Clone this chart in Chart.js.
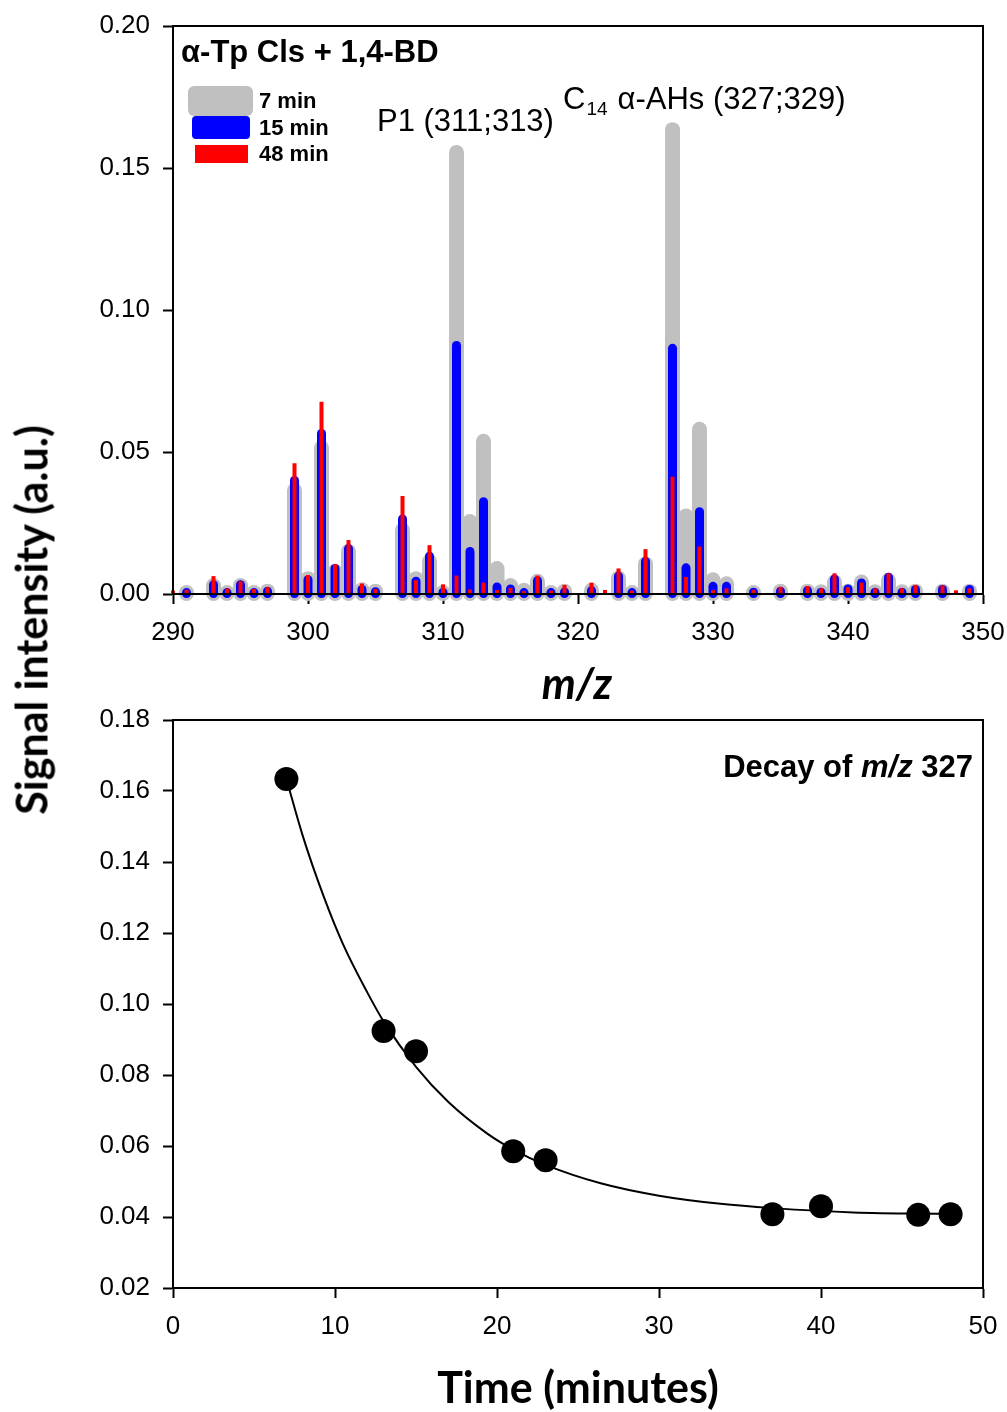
<!DOCTYPE html>
<html lang="en">
<head>
<meta charset="UTF-8">
<title>α-Tp Cls + 1,4-BD</title>
<script src="https://cdn.jsdelivr.net/npm/chart.js"></script>
<style>
  body { margin: 0; background: #fff; }
  #page { position: relative; width: 1007px; height: 1412px; overflow: hidden; }
  canvas { position: absolute; left: 0; }
  #spec { top: 0; }
  #decay { top: 700px; }
  .title { position: absolute; font-family: Lato, "Noto Sans", sans-serif; font-weight: 700; font-size: 43px; line-height: 1; white-space: nowrap; color: #000; }
  #ytitle { left: 31px; top: 620px; transform: translate(-50%, -50%) rotate(-90deg); }
  #mztitle { left: 577px; top: 682px; transform: translate(-50%, -50%); font-style: italic; }
  #ttitle { left: 578px; top: 1386px; transform: translate(-50%, -50%); }
</style>
</head>
<body>
<div id="page">
  <canvas id="spec" width="1007" height="700"></canvas>
  <canvas id="decay" width="1007" height="712"></canvas>
  <div class="title" id="ytitle">Signal intensity (a.u.)</div>
  <div class="title" id="mztitle">m/z</div>
  <div class="title" id="ttitle">Time (minutes)</div>
</div>
<script>
// mass spectra after 7, 15 and 48 min (null = no peak)
const mz = [290, 291, 293, 294, 295, 296, 297, 299, 300, 301, 302, 303, 304, 305,
  307, 308, 309, 310, 311, 312, 313, 314, 315, 316, 317, 318, 319, 321, 322, 323,
  324, 325, 327, 328, 329, 330, 331, 333, 335, 337, 338, 339, 340, 341, 342, 343,
  344, 345, 347, 348, 349]
const min7 = [null, 0.0005, 0.003, 0.0005, 0.003, 0.0005, 0.001, 0.0365, 0.0054, 0.0515, 0.008, 0.015, 0.0015, 0.001,
  0.0225, 0.0054, 0.0115, 0.0005, 0.1555, 0.0255, 0.0538, 0.009, 0.003, 0.0013, 0.0045, 0.0005, 0.001, 0.0013, null, 0.0056,
  0.0005, 0.0106, 0.1635, 0.0275, 0.058, 0.005, 0.0036, 0.0005, 0.001, 0.001, 0.0008, 0.0042, 0.001, 0.0042, 0.0008, 0.0048,
  0.0008, 0.001, 0.001, null, 0.001]
const min15 = [null, 0.0005, 0.0033, 0.0005, 0.0033, 0.0005, 0.001, 0.040, 0.005, 0.0565, 0.009, 0.016, 0.0016, 0.0008,
  0.0264, 0.0045, 0.0133, 0.0006, 0.0875, 0.015, 0.0325, 0.0025, 0.0018, 0.0005, 0.0047, 0.0005, 0.0007, 0.0012, null, 0.0063,
  0.0005, 0.0115, 0.0865, 0.0092, 0.029, 0.0027, 0.0027, 0.0006, 0.001, 0.0012, 0.0006, 0.0053, 0.0018, 0.0039, 0.0006, 0.0059,
  0.0006, 0.0016, 0.0016, null, 0.0016]
const min48 = [0.0012, 0.0015, 0.0063, 0.0019, 0.0045, 0.0018, 0.0024, 0.046, 0.0067, 0.0677, 0.0105, 0.019, 0.0037, 0.0018,
  0.0345, 0.0049, 0.0172, 0.0034, 0.0065, 0.0016, 0.004, 0.0014, 0.0022, 0.001, 0.0065, 0.0012, 0.0032, 0.004, 0.0014, 0.009,
  0.0012, 0.0158, 0.0413, 0.006, 0.0167, 0.0014, 0.002, 0.0015, 0.0025, 0.0028, 0.002, 0.0073, 0.0024, 0.004, 0.002, 0.0073,
  0.002, 0.0032, 0.003, 0.0013, 0.002]

// decay of m/z 327
const time = [7, 13, 15, 21, 23, 37, 40, 46, 48]
const signal = [0.1634, 0.0924, 0.0867, 0.0585, 0.056, 0.0408, 0.043, 0.0406, 0.0408]
const fitTime = [7, 8, 9.3, 10.5, 12, 13, 15, 17, 19.4, 21, 23, 26.4, 30, 33.8, 37, 42, 48]
const fitSignal = [0.1634, 0.1475, 0.1303, 0.1168, 0.1032, 0.0951, 0.0823, 0.0724, 0.0635, 0.059, 0.0547, 0.0495, 0.046, 0.0437, 0.0425, 0.0413, 0.0409]

const FONT = '"Liberation Sans", Arial, sans-serif'
Chart.defaults.font.family = FONT
Chart.defaults.color = '#000'

const pairs = (xs, ys) => xs.map((x, i) => ({ x, y: ys[i] }))

// axis boxes fixed so both plots share the same frame
const fixWidth = (w) => (s) => { s.width = w; s.paddingTop = 0; s.paddingBottom = 0 }
const fixHeight = (h) => (s) => { s.height = h; s.paddingLeft = 0; s.paddingRight = 0 }

const axis = (extra) => ({
  border: { display: true, color: '#000', width: 2 },
  grid: { display: true, drawOnChartArea: false, drawTicks: true, tickLength: 10, tickWidth: 2, tickColor: '#000', offset: false },
  ticks: { font: { size: 26 }, color: '#000', padding: 13 },
  ...extra,
})

// sticks with round caps, drawn from the bar elements
const sticks = {
  id: 'sticks',
  beforeDatasetDraw(chart, args) {
    const ds = chart.data.datasets[args.index]
    if (!ds.cap) return
    const ctx = chart.ctx
    ctx.save()
    ctx.strokeStyle = ds.backgroundColor
    ctx.lineCap = ds.cap
    args.meta.data.forEach((bar, j) => {
      if (ds.data[j].y == null) return
      ctx.lineWidth = bar.width
      ctx.beginPath()
      ctx.moveTo(bar.x, bar.base)
      ctx.lineTo(bar.x, bar.y)
      ctx.stroke()
    })
    ctx.restore()
    return false
  },
}

const frame = {
  id: 'frame',
  afterDatasetsDraw(chart) {
    const { ctx, chartArea: a } = chart
    ctx.save()
    ctx.strokeStyle = '#000'
    ctx.lineWidth = 2
    ctx.strokeRect(a.left, a.top, a.right - a.left, a.bottom - a.top)
    ctx.restore()
  },
}

function rounded(ctx, x, y, w, h, r) {
  ctx.beginPath()
  ctx.moveTo(x + r, y)
  ctx.arcTo(x + w, y, x + w, y + h, r)
  ctx.arcTo(x + w, y + h, x, y + h, r)
  ctx.arcTo(x, y + h, x, y, r)
  ctx.arcTo(x, y, x + w, y, r)
  ctx.closePath()
  ctx.fill()
}

const specNotes = {
  id: 'specNotes',
  afterDraw(chart) {
    const ctx = chart.ctx
    const sets = chart.data.datasets
    ctx.save()
    ctx.fillStyle = '#000'
    ctx.textBaseline = 'alphabetic'
    ctx.font = 'bold 31px ' + FONT
    ctx.fillText('α-Tp Cls + 1,4-BD', 181, 62)

    // legend
    const swatches = [[188, 86, 65, 30, 6, 108], [192, 116, 58, 23, 4, 135], [195, 145, 53, 18, 0, 161]]
    const byLabel = ['7 min', '15 min', '48 min']
    byLabel.forEach((lab, i) => {
      const ds = sets.find((d) => d.label === lab)
      const [x, y, w, h, r, base] = swatches[i]
      ctx.fillStyle = ds.backgroundColor
      if (r) rounded(ctx, x, y, w, h, r)
      else ctx.fillRect(x, y, w, h)
      ctx.fillStyle = '#000'
      ctx.font = 'bold 22px ' + FONT
      ctx.fillText(lab, 259, base)
    })

    ctx.font = '31px ' + FONT
    ctx.fillText('P1 (311;313)', 377, 131)
    let x = 563
    ctx.fillText('C', x, 109)
    x += ctx.measureText('C').width
    ctx.font = '19px ' + FONT
    ctx.fillText('14', x + 1, 115)
    x += ctx.measureText('14').width + 11
    ctx.font = '31px ' + FONT
    ctx.fillText('α-AHs (327;329)', x, 109)
    ctx.restore()
  },
}

const decayNotes = {
  id: 'decayNotes',
  afterDraw(chart) {
    const ctx = chart.ctx
    const parts = [['Decay of ', 'bold'], ['m/z', 'italic bold'], [' 327', 'bold']]
    ctx.save()
    ctx.fillStyle = '#000'
    ctx.textBaseline = 'alphabetic'
    let total = 0
    parts.forEach(([t, f]) => { ctx.font = f + ' 31px ' + FONT; total += ctx.measureText(t).width })
    let x = 973 - total
    parts.forEach(([t, f]) => {
      ctx.font = f + ' 31px ' + FONT
      ctx.fillText(t, x, 77)
      x += ctx.measureText(t).width
    })
    ctx.restore()
  },
}

new Chart(document.getElementById('spec'), {
  type: 'bar',
  data: {
    datasets: [
      { label: '48 min', data: pairs(mz, min48), backgroundColor: '#ff0000', barThickness: 4, cap: 'butt', order: 1 },
      { label: '15 min', data: pairs(mz, min15), backgroundColor: '#0000ff', barThickness: 9, cap: 'round', order: 2 },
      { label: '7 min', data: pairs(mz, min7), backgroundColor: '#c0c0c0', barThickness: 15, cap: 'round', order: 3 },
    ],
  },
  options: {
    responsive: false,
    animation: false,
    devicePixelRatio: 1,
    layout: { padding: { left: 0, top: 26, right: 24, bottom: 0 } },
    datasets: { bar: { grouped: false, clip: false } },
    plugins: { legend: { display: false }, tooltip: { enabled: false } },
    scales: {
      x: axis({ type: 'linear', min: 290, max: 350, offset: false, afterFit: fixHeight(106),
        ticks: { font: { size: 26 }, color: '#000', padding: 13, stepSize: 10 } }),
      y: axis({ min: 0, max: 0.2, afterFit: fixWidth(173),
        ticks: { font: { size: 26 }, color: '#000', padding: 13, stepSize: 0.05, callback: (v) => v.toFixed(2) } }),
    },
  },
  plugins: [sticks, frame, specNotes],
})

new Chart(document.getElementById('decay'), {
  type: 'scatter',
  data: {
    datasets: [
      { label: 'm/z 327', data: pairs(time, signal), backgroundColor: '#000', borderWidth: 0, pointRadius: 12, order: 1, clip: false },
      { label: 'fit', type: 'line', data: pairs(fitTime, fitSignal), borderColor: '#000', borderWidth: 2, pointRadius: 0,
        fill: false, cubicInterpolationMode: 'monotone', order: 2 },
    ],
  },
  options: {
    responsive: false,
    animation: false,
    devicePixelRatio: 1,
    layout: { padding: { left: 0, top: 20, right: 24, bottom: 0 } },
    plugins: { legend: { display: false }, tooltip: { enabled: false } },
    scales: {
      x: axis({ type: 'linear', min: 0, max: 50, afterFit: fixHeight(124),
        ticks: { font: { size: 26 }, color: '#000', padding: 13, stepSize: 10 } }),
      y: axis({ min: 0.02, max: 0.18, afterFit: fixWidth(173),
        ticks: { font: { size: 26 }, color: '#000', padding: 13, stepSize: 0.02, callback: (v) => v.toFixed(2) } }),
    },
  },
  plugins: [frame, decayNotes],
})
</script>
</body>
</html>
